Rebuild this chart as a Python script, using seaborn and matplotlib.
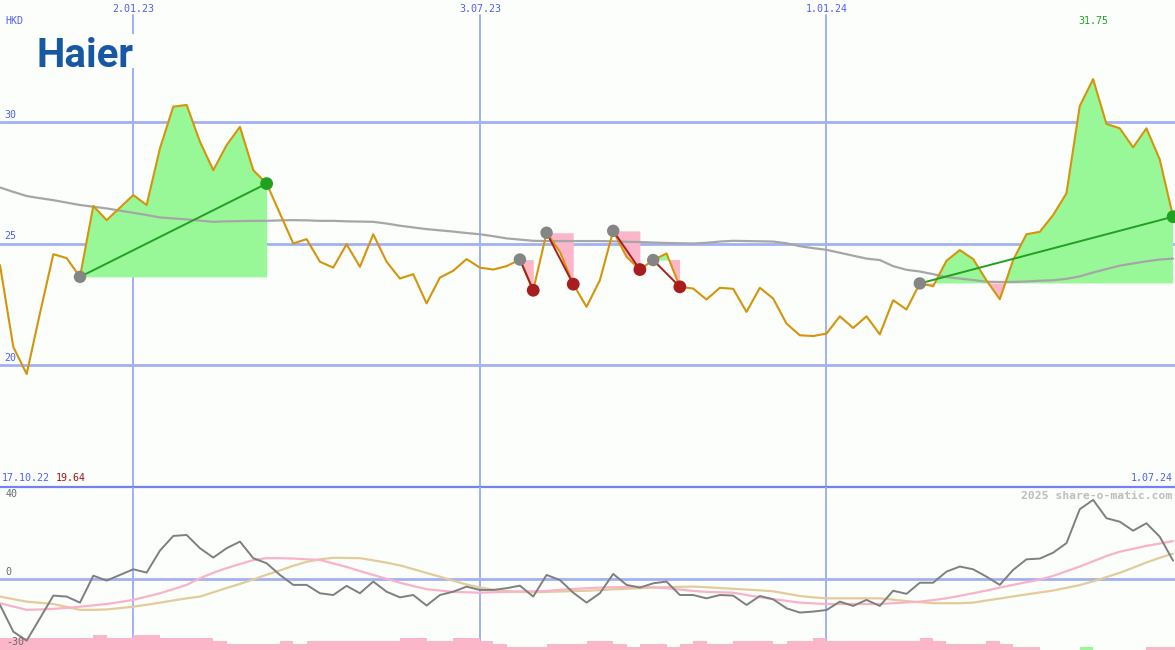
import matplotlib
matplotlib.use("Agg")
import matplotlib.pyplot as plt
from matplotlib.patches import Rectangle
import seaborn as sns
import numpy as np
import pandas as pd

# weekly closes in HKD, first week 24.10.22
close = [24.11, 20.75, 19.64, 22.14, 24.56, 24.40, 23.63, 26.54, 25.96, 26.47,
         26.99, 26.58, 28.91, 30.62, 30.69, 29.18, 28.01, 29.04, 29.79, 28.01,
         27.46, 26.23, 25.00, 25.18, 24.25, 24.01, 24.97, 24.04, 25.38, 24.25,
         23.56, 23.74, 22.54, 23.60, 23.88, 24.36, 24.01, 23.93, 24.07, 24.34,
         23.08, 25.44, 24.66, 23.33, 22.40, 23.49, 25.52, 24.45, 23.93, 24.32,
         24.59, 23.22, 23.15, 22.70, 23.18, 23.14, 22.19, 23.18, 22.74, 21.71,
         21.23, 21.20, 21.30, 22.01, 21.53, 22.01, 21.27, 22.67, 22.29, 23.36,
         23.25, 24.29, 24.73, 24.36, 23.49, 22.71, 24.32, 25.38, 25.48, 26.17,
         27.06, 30.65, 31.75, 29.91, 29.73, 28.95, 29.73, 28.45, 26.10]

# long moving average (grey)
ma_long = [27.30, 27.12, 26.95, 26.86, 26.78, 26.68, 26.58, 26.51, 26.44, 26.35,
           26.26, 26.17, 26.07, 26.03, 25.99, 25.94, 25.89, 25.91, 25.92, 25.93,
           25.93, 25.95, 25.96, 25.95, 25.93, 25.93, 25.91, 25.90, 25.89, 25.82,
           25.73, 25.66, 25.59, 25.54, 25.49, 25.43, 25.38, 25.30, 25.21, 25.16,
           25.11, 25.10, 25.10, 25.10, 25.10, 25.10, 25.09, 25.07, 25.06, 25.04,
           25.02, 25.01, 25.00, 25.03, 25.08, 25.11, 25.10, 25.09, 25.08, 25.01,
           24.89, 24.81, 24.74, 24.62, 24.50, 24.38, 24.32, 24.07, 23.92, 23.85,
           23.74, 23.62, 23.56, 23.50, 23.43, 23.42, 23.42, 23.44, 23.47, 23.49,
           23.55, 23.65, 23.81, 23.95, 24.09, 24.18, 24.27, 24.34, 24.38]

# oscillator panel
osc = [-13.5, -27.2, -31.8, -20.3, -8.7, -9.2, -12.3, 1.5, -1.0, 1.9,
       4.8, 3.1, 14.4, 21.9, 22.4, 15.6, 10.8, 15.6, 19.0, 10.5,
       7.9, 1.9, -3.2, -3.2, -7.5, -8.4, -3.7, -7.5, -1.5, -6.7,
       -9.6, -8.4, -13.8, -8.4, -6.7, -4.1, -5.8, -5.8, -4.9, -3.6,
       -9.2, 1.9, -0.7, -7.2, -12.3, -7.5, 2.4, -3.2, -4.6, -2.4,
       -1.5, -8.4, -8.4, -10.1, -8.4, -8.7, -13.5, -8.9, -10.6, -15.2,
       -17.4, -16.9, -16.1, -11.8, -14.0, -10.9, -14.0, -6.2, -7.8, -2.1,
       -2.1, 3.6, 6.2, 4.8, 1.0, -3.2, 4.5, 9.9, 10.3, 13.3,
       18.2, 35.6, 40.4, 31.0, 29.2, 24.6, 28.4, 21.5, 9.2]

osc_fast = [-12.6, -14.3, -16.0, -15.8, -15.5, -15.0, -14.4, -13.7, -13.0, -12.0,
            -10.9, -9.2, -7.5, -5.4, -3.2, 0.2, 3.0, 5.4, 7.5, 9.5,
            10.5, 10.5, 10.3, 9.9, 9.6, 7.8, 6.0, 3.9, 1.9, -0.1,
            -2.1, -3.8, -5.4, -6.1, -6.8, -7.0, -7.2, -7.0, -6.8, -6.6,
            -6.5, -6.3, -5.8, -5.3, -4.9, -4.6, -4.4, -4.3, -4.2, -4.4,
            -4.9, -5.6, -6.3, -6.8, -7.0, -7.2, -8.4, -9.5, -10.5, -11.4,
            -12.3, -12.7, -13.0, -13.0, -13.0, -13.0, -13.0, -12.6, -12.2, -11.8,
            -11.0, -10.1, -8.8, -7.5, -6.1, -4.6, -3.2, -1.8, -0.5, 1.4,
            3.8, 6.2, 8.9, 11.6, 13.8, 15.3, 16.8, 18.0, 19.3]

osc_slow = [-9.2, -10.5, -11.8, -12.4, -13.0, -14.5, -16.0, -16.0, -15.8, -15.1,
            -14.4, -13.4, -12.3, -11.2, -10.1, -9.2, -7.0, -4.8, -2.7, -0.4,
            2.0, 4.2, 6.6, 8.6, 9.9, 10.7, 10.6, 10.5, 9.4, 8.2,
            6.8, 4.9, 2.9, 1.0, -1.1, -3.0, -4.5, -5.7, -6.4, -6.8,
            -7.0, -6.8, -6.6, -6.4, -6.2, -5.9, -5.5, -5.2, -4.9, -4.6,
            -4.4, -4.2, -4.1, -4.4, -4.8, -5.2, -5.6, -6.0, -6.5, -7.7,
            -8.9, -9.6, -10.1, -10.1, -10.1, -10.1, -10.1, -10.8, -11.5, -12.1,
            -12.6, -12.6, -12.6, -12.3, -11.2, -10.2, -9.1, -8.1, -7.1, -6.1,
            -4.7, -3.3, -1.4, 0.8, 3.0, 5.6, 8.3, 10.7, 12.8]

# histogram strip at the bottom (negative = pink, positive = green)
hist = [-6.2, -6.2, -6.2, -6.2, -6.2, -6.2, -6.2, -7.7, -6.2, -6.2,
        -7.7, -7.7, -6.2, -6.2, -6.2, -6.2, -4.6, -3.1, -3.1, -3.1,
        -3.1, -4.6, -3.1, -4.6, -4.6, -4.6, -4.6, -4.6, -4.6, -4.6,
        -6.2, -6.2, -4.6, -4.6, -6.2, -6.2, -4.6, -3.1, -1.5, -1.5,
        -1.5, -3.1, -3.1, -3.1, -4.6, -4.6, -3.1, -1.5, -3.1, -3.1,
        -1.5, -3.1, -4.6, -3.1, -3.1, -4.6, -4.6, -4.6, -3.1, -4.6,
        -4.6, -6.2, -4.6, -4.6, -4.6, -4.6, -4.6, -4.6, -4.6, -6.2,
        -4.6, -3.1, -3.1, -3.1, -4.6, -3.1, -1.5, -1.5, 0.0, 0.0,
        0.0, 1.5, 0.0, 0.0, 0.0, 0.0, -1.5, -1.5, -1.5]

# trades: entry / exit week index, True = winning long (green exit)
entry_idx = [6, 39, 41, 46, 49, 69]
exit_idx = [20, 40, 43, 48, 51, 88]
trade_win = [True, False, False, False, False, True]

grid_dates = ["2023-01-02", "2023-07-03", "2024-01-01"]
grid_labels = ["2.01.23", "3.07.23", "1.01.24"]
price_ticks = [20, 25, 30]
osc_ticks = [40, 0]

BG = "#fbfefb"
GRID = "#a3b0f2"
BLUE_TXT = "#4f5ff0"
ORANGE = "#d4940c"
GREEN = "#22a022"
RED = "#a81e1e"
GREEN_FILL = "#98f898"
PINK_FILL = "#fcb6c9"

sns.set_style("white")
plt.rcParams["font.family"] = ["DejaVu Sans Mono"]

dates = pd.date_range("2022-10-24", periods=len(close), freq="7D")
close_arr = np.array(close)

fig = plt.figure(figsize=(11.75, 6.5), dpi=100, facecolor=BG)
ax = fig.add_axes([0, 163 / 650, 1, 487 / 650])
ax2 = fig.add_axes([0, 0, 1, 163 / 650], sharex=ax)
for a in (ax, ax2):
    a.set_axis_off()
ax.set_xlim(dates[0], dates[0] + pd.Timedelta(days=617))
ax.set_ylim(15, 35)
ax2.set_ylim(-36.6, 47.0)

# grid
for v in price_ticks:
    ax.axhline(v, color=GRID, lw=2, zorder=0.5)
    ax.annotate(str(v), xy=(0.004, v), xycoords=ax.get_yaxis_transform(),
                xytext=(0, 1.5), textcoords="offset points", va="bottom",
                ha="left", color=BLUE_TXT, fontsize=7.2)
for d, lab in zip(grid_dates, grid_labels):
    ax.axvline(pd.Timestamp(d), ymax=0.969, color=GRID, lw=1.4, zorder=0.5)
    ax2.axvline(pd.Timestamp(d), color=GRID, lw=1.4, zorder=0.5)
    ax.text(pd.Timestamp(d), 0.981, lab, transform=ax.get_xaxis_transform(),
            ha="center", va="center", color=BLUE_TXT, fontsize=7.2)
ax.axhline(15, color="#7282f2", lw=1.6, clip_on=False, zorder=5)
ax2.axhline(0, color=GRID, lw=2, zorder=0.5)

# trade areas
for s, e, win in zip(entry_idx, exit_idx, trade_win):
    xs = dates[s:e + 1]
    p = close_arr[s:e + 1]
    lvl = close[s]
    ax.fill_between(xs, lvl, p, where=p >= lvl, interpolate=True,
                    color=GREEN_FILL, lw=0, zorder=1)
    ax.fill_between(xs, lvl, p, where=p <= lvl, interpolate=True,
                    color=PINK_FILL, lw=0, zorder=1)

sns.lineplot(x=dates, y=ma_long, ax=ax, color="#a6a6a6", lw=1.6, zorder=2)
sns.lineplot(x=dates, y=close, ax=ax, color=ORANGE, lw=1.5, zorder=3)

for s, e, win in zip(entry_idx, exit_idx, trade_win):
    ax.plot([dates[s], dates[e]], [close[s], close[e]],
            color=GREEN if win else RED, lw=1.4, zorder=4)

entries = pd.DataFrame({"d": dates[entry_idx], "p": close_arr[entry_idx]})
exits = pd.DataFrame({"d": dates[exit_idx], "p": close_arr[exit_idx],
                      "win": trade_win})
sns.scatterplot(data=entries, x="d", y="p", ax=ax, color="#858585", s=80,
                edgecolor="none", zorder=5)
sns.scatterplot(data=exits, x="d", y="p", ax=ax, s=85, edgecolor="none",
                c=[GREEN if w else RED for w in trade_win], zorder=5)
ax.set_xlabel("")
ax.set_ylabel("")

# oscillator panel
heights = [abs(h) for h in hist]
bar_cols = [GREEN_FILL if h > 0 else PINK_FILL for h in hist]
ax2.bar(dates, heights, width=7, align="edge", bottom=-36.6, color=bar_cols,
        lw=0, zorder=1)
sns.lineplot(x=dates, y=osc_slow, ax=ax2, color="#e2cc9c", lw=1.6, zorder=2)
sns.lineplot(x=dates, y=osc_fast, ax=ax2, color="#f9b3c9", lw=1.6, zorder=2)
sns.lineplot(x=dates, y=osc, ax=ax2, color="#7f7f7f", lw=1.4, zorder=3)
ax2.set_xlabel("")
ax2.set_ylabel("")
for v in osc_ticks:
    ax2.annotate(str(v), xy=(0.005, v), xycoords=ax2.get_yaxis_transform(),
                 xytext=(0, 1.5), textcoords="offset points", va="bottom",
                 ha="left", color="#6a6a6a", fontsize=7.2)
ax2.text(0.005, 0.02, "-30", transform=ax2.transAxes, ha="left", va="bottom",
         color="#6a6a6a", fontsize=7.2)

# texts
ax.text(0.005, 0.956, "HKD", transform=ax.transAxes, ha="left", va="center",
        color=BLUE_TXT, fontsize=7.2)
i_max = int(np.argmax(close_arr))
ax.text(dates[i_max], 0.957, f"{close[i_max]:.2f}",
        transform=ax.get_xaxis_transform(), ha="center", va="center",
        color=GREEN, fontsize=7.2)
i_min = int(np.argmin(close_arr))
ax.text(0.0015, 0.018, "17.10.22", transform=ax.transAxes, ha="left",
        va="center", color=BLUE_TXT, fontsize=7.2)
ax.text(0.0474, 0.018, f"{close[i_min]:.2f}", transform=ax.transAxes,
        ha="left", va="center", color="#a01818", fontsize=7.2)
ax.text(0.998, 0.018, "1.07.24", transform=ax.transAxes, ha="right",
        va="center", color=BLUE_TXT, fontsize=7.2)
ax2.text(0.998, 0.945, "2025 share-o-matic.com", transform=ax2.transAxes,
         ha="right", va="center", color="#bdbdbd", fontsize=8.2,
         fontweight="bold")

# logo on a plain box that hides the grid line behind it
ax.add_patch(Rectangle((30 / 1175, 1 - 68 / 487), 110 / 1175, 34 / 487,
                       transform=ax.transAxes, facecolor=BG, edgecolor="none",
                       zorder=5.5))
ax.text(0.031, 0.863, "Haier", transform=ax.transAxes, ha="left",
        va="baseline", color="#1857a4", fontsize=29, fontweight="bold",
        family="Roboto", zorder=6)

fig.savefig("out.png", dpi=100, facecolor=BG)
